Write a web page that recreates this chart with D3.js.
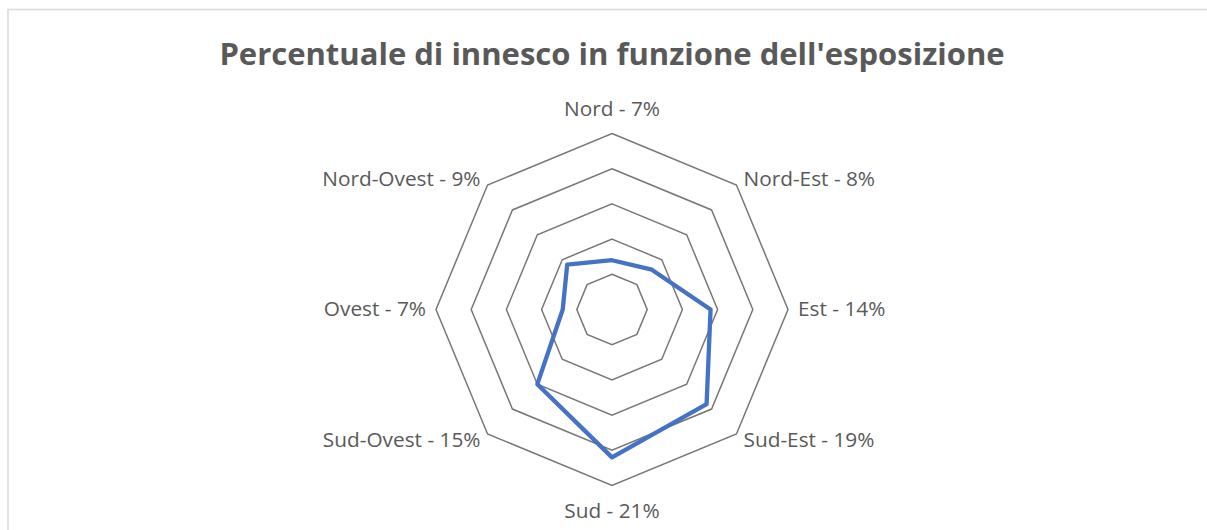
<!DOCTYPE html>
<html>
<head>
<meta charset="utf-8">
<script src="https://cdn.jsdelivr.net/npm/d3@7"></script>
<style>
  body { margin: 0; background: #fff; }
  svg { display: block; }
</style>
</head>
<body>
<main></main>
<script>
// data
const directions = ['Nord', 'Nord-Est', 'Est', 'Sud-Est', 'Sud', 'Sud-Ovest', 'Ovest', 'Nord-Ovest'];
const percentages = [7, 8, 14, 19, 21, 15, 7, 9];
const ringLevels = [5, 10, 15, 20, 25];
const title = "Percentuale di innesco in funzione dell'esposizione";

const w = 1207;
const h = 530;
const cx = 612;
const cy = 309.5;
const radius = 176;

const svg = d3.select('main').append('svg').attr('width', w).attr('height', h);

// chart frame
svg
  .append('rect')
  .attr('x', 8)
  .attr('y', 9.5)
  .attr('width', w + 10)
  .attr('height', h + 10)
  .attr('fill', '#fff')
  .attr('stroke', '#d9d9d9')
  .attr('stroke-width', 1.5);

svg
  .append('text')
  .attr('x', cx)
  .attr('y', 65)
  .attr('text-anchor', 'middle')
  .style('font-family', 'Open Sans')
  .style('font-weight', 'bold')
  .style('font-size', '31px')
  .style('fill', '#595959')
  .text(title);

// one spoke per direction, clockwise from the top
const step = (2 * Math.PI) / directions.length;
const ang = (d) => directions.indexOf(d) * step;

const r = d3.scaleLinear().domain([0, 25]).range([0, radius]);

const g = svg.append('g').attr('transform', `translate(${cx},${cy})`);

const radial = d3
  .lineRadial()
  .angle((d) => ang(d.dir))
  .radius((d) => r(d.value))
  .curve(d3.curveLinearClosed);

// grid rings
g.selectAll('path.ring')
  .data(ringLevels)
  .enter()
  .append('path')
  .attr('class', 'ring')
  .attr('d', (lv) => radial(directions.map((dir) => ({ dir, value: lv }))))
  .attr('fill', 'none')
  .attr('stroke', '#7a7676')
  .attr('stroke-width', 1.5);

// data series
const series = directions.map((dir, i) => ({ dir, value: percentages[i] }));
g.append('path')
  .attr('d', radial(series))
  .attr('fill', 'none')
  .attr('stroke', '#4472c4')
  .attr('stroke-width', 4.3)
  .attr('stroke-linejoin', 'round');

// category labels
const maxV = ringLevels[ringLevels.length - 1];
g.selectAll('text.lbl')
  .data(series)
  .enter()
  .append('text')
  .attr('class', 'lbl')
  .each(function (d) {
    const a = ang(d.dir);
    const dx = Math.sin(a);
    const dy = -Math.cos(a);
    const vx = r(maxV) * dx;
    const vy = r(maxV) * dy;
    let anchor = 'middle';
    if (dx > 0.1) anchor = 'start';
    if (dx < -0.1) anchor = 'end';
    let off = 6;
    if (dy < -0.9) off = -18;
    else if (dy < -0.1) off = 1;
    else if (dy > 0.9) off = 32;
    else if (dy > 0.1) off = 13;
    d3.select(this)
      .attr('x', vx + dx * 10)
      .attr('y', vy + off)
      .attr('text-anchor', anchor);
  })
  .style('font-family', 'Open Sans')
  .style('font-size', '20.8px')
  .style('fill', '#595959')
  .text((d) => `${d.dir} - ${d.value}%`);
</script>
</body>
</html>
